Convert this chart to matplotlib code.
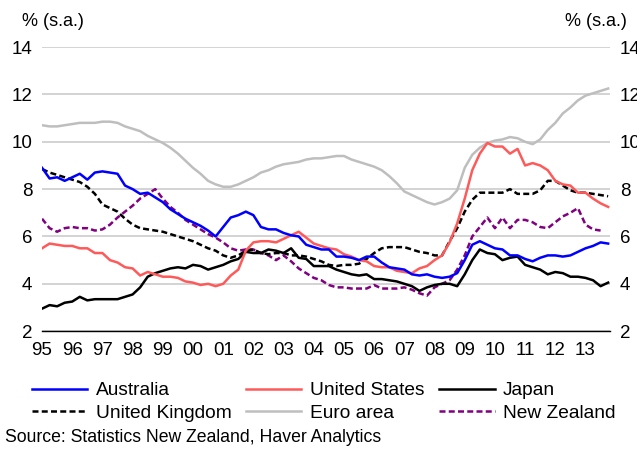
import numpy as np
import matplotlib
matplotlib.use("Agg")
import matplotlib.pyplot as plt

plt.rcParams['font.family'] = ['Liberation Sans', 'DejaVu Sans']

# quarterly time axis, 1995Q1 .. 2013Q4
quarters = np.arange(1995.0, 2013.76, 0.25)

australia = [8.9, 8.45, 8.5, 8.35, 8.5, 8.65, 8.4, 8.7, 8.75, 8.7, 8.65, 8.15,
             8.0, 7.8, 7.85, 7.65, 7.45, 7.15, 6.95, 6.75, 6.6, 6.45, 6.25, 6.0,
             6.4, 6.8, 6.9, 7.05, 6.9, 6.4, 6.3, 6.3, 6.15, 6.05, 6.0, 5.65,
             5.55, 5.45, 5.45, 5.15, 5.15, 5.1, 5.0, 5.15, 5.15, 4.9, 4.7, 4.65,
             4.6, 4.4, 4.35, 4.4, 4.3, 4.25, 4.3, 4.45, 5.0, 5.65, 5.8, 5.65,
             5.5, 5.45, 5.2, 5.2, 5.05, 4.95, 5.1, 5.2, 5.2, 5.15, 5.2, 5.35,
             5.5, 5.6, 5.75, 5.7]

united_states = [5.5, 5.7, 5.65, 5.6, 5.6, 5.5, 5.5, 5.3, 5.3, 5.0, 4.9, 4.7,
                 4.65, 4.35, 4.5, 4.4, 4.3, 4.3, 4.25, 4.1, 4.05, 3.95, 4.0, 3.9,
                 4.0, 4.35, 4.6, 5.4, 5.75, 5.8, 5.8, 5.75, 5.9, 6.05, 6.2, 5.95,
                 5.7, 5.6, 5.5, 5.45, 5.25, 5.15, 5.0, 4.95, 4.75, 4.7, 4.7, 4.55,
                 4.5, 4.45, 4.65, 4.75, 5.0, 5.2, 5.75, 6.55, 7.6, 8.8, 9.5, 9.95,
                 9.8, 9.8, 9.5, 9.7, 9.0, 9.1, 9.0, 8.8, 8.35, 8.2, 8.15, 7.85,
                 7.85, 7.6, 7.4, 7.25]

japan = [2.95, 3.1, 3.05, 3.2, 3.25, 3.45, 3.3, 3.35, 3.35, 3.35, 3.35, 3.45,
         3.55, 3.85, 4.3, 4.45, 4.55, 4.65, 4.7, 4.65, 4.8, 4.75, 4.6, 4.7,
         4.8, 4.95, 5.05, 5.35, 5.3, 5.3, 5.45, 5.4, 5.3, 5.5, 5.1, 5.05,
         4.75, 4.75, 4.75, 4.6, 4.5, 4.4, 4.35, 4.4, 4.2, 4.2, 4.15, 4.1,
         4.0, 3.9, 3.7, 3.85, 3.95, 4.0, 4.0, 3.9, 4.4, 5.0, 5.45, 5.3,
         5.25, 5.0, 5.1, 5.15, 4.8, 4.7, 4.6, 4.4, 4.5, 4.45, 4.3, 4.3,
         4.25, 4.15, 3.9, 4.05]

united_kingdom = [8.85, 8.7, 8.6, 8.5, 8.4, 8.3, 8.1, 7.8, 7.35, 7.2, 7.05, 6.75,
                  6.5, 6.35, 6.3, 6.25, 6.2, 6.1, 6.0, 5.9, 5.8, 5.65, 5.5, 5.4,
                  5.2, 5.1, 5.2, 5.4, 5.45, 5.3, 5.25, 5.3, 5.3, 5.2, 5.2, 5.15,
                  5.05, 4.95, 4.8, 4.75, 4.8, 4.8, 4.85, 5.05, 5.3, 5.5, 5.55, 5.55,
                  5.55, 5.45, 5.35, 5.3, 5.2, 5.2, 5.8, 6.35, 7.05, 7.55, 7.85, 7.85,
                  7.85, 7.85, 8.0, 7.8, 7.8, 7.8, 7.95, 8.35, 8.35, 8.15, 7.95, 7.85,
                  7.85, 7.8, 7.75, 7.7]

euro_area = [10.7, 10.65, 10.65, 10.7, 10.75, 10.8, 10.8, 10.8, 10.85, 10.85, 10.8, 10.65,
             10.55, 10.45, 10.25, 10.1, 9.95, 9.75, 9.5, 9.2, 8.9, 8.65, 8.35, 8.2,
             8.1, 8.1, 8.2, 8.35, 8.5, 8.7, 8.8, 8.95, 9.05, 9.1, 9.15, 9.25,
             9.3, 9.3, 9.35, 9.4, 9.4, 9.25, 9.15, 9.05, 8.95, 8.8, 8.55, 8.25,
             7.9, 7.75, 7.6, 7.45, 7.35, 7.45, 7.6, 7.95, 8.9, 9.45, 9.75, 9.95,
             10.05, 10.1, 10.2, 10.15, 10.0, 9.9, 10.1, 10.5, 10.8, 11.2, 11.45, 11.75,
             11.95, 12.05, 12.15, 12.25]

# NZ household labour force survey, last obs 2013Q3
new_zealand = [6.75, 6.35, 6.2, 6.35, 6.4, 6.35, 6.35, 6.25, 6.3, 6.5, 6.8, 7.05,
               7.3, 7.6, 7.8, 8.0, 7.6, 7.25, 7.0, 6.7, 6.5, 6.3, 6.1, 5.95,
               5.75, 5.5, 5.4, 5.45, 5.45, 5.3, 5.2, 5.0, 5.2, 4.95, 4.65, 4.45,
               4.25, 4.15, 3.95, 3.85, 3.85, 3.8, 3.8, 3.8, 3.95, 3.8, 3.8, 3.8,
               3.85, 3.75, 3.6, 3.5, 3.85, 4.0, 4.15, 4.6, 5.2, 6.0, 6.4, 6.8,
               6.35, 6.8, 6.35, 6.7, 6.7, 6.6, 6.4, 6.35, 6.6, 6.85, 7.0, 7.2,
               6.5, 6.3, 6.25]

year_ticks = list(range(1995, 2014))
year_labels = ['%02d' % (y % 100) for y in year_ticks]
y_ticks = [2, 4, 6, 8, 10, 12, 14]

fig = plt.figure(figsize=(6.37, 4.53), dpi=100)
ax = fig.add_axes([0.066, 0.269, 0.892, 0.627])

dash = (0, (2.4, 1.3))
lw = 1.8
ax.plot(quarters, euro_area, color='#BEBEBE', lw=lw, label='Euro area')
ax.plot(quarters[:len(new_zealand)], new_zealand, color='#800080', lw=lw, ls=dash, label='New Zealand')
ax.plot(quarters, united_kingdom, color='black', lw=lw, ls=dash, label='United Kingdom')
ax.plot(quarters, japan, color='black', lw=lw, label='Japan')
ax.plot(quarters, united_states, color='#FF5A5A', lw=lw, label='United States')
ax.plot(quarters, australia, color='#0000FF', lw=lw, label='Australia')

ax.set_xlim(1995.0, 2013.82)
ax.set_ylim(2, 14)
ax.set_xticks(year_ticks)
ax.set_xticklabels(year_labels)
ax.set_yticks(y_ticks)
ax.tick_params(axis='x', length=0, pad=8, labelsize=13.5)
ax.tick_params(axis='y', length=0, labelsize=13.5, labelleft=True, labelright=True, pad=7)
ax.grid(axis='y', color='#CCCCCC', lw=1.2)
ax.set_axisbelow(True)
for s in ['top', 'left', 'right']:
    ax.spines[s].set_visible(False)
ax.spines['bottom'].set_color('black')
ax.spines['bottom'].set_linewidth(1.0)

fig.text(22 / 637, 1 - 22 / 453, '% (s.a.)', fontsize=13, va='center', ha='left')
fig.text(627 / 637, 1 - 22 / 453, '% (s.a.)', fontsize=13, va='center', ha='right')

# legend: rows Australia/US/Japan, then UK/Euro/NZ
h = {l.get_label(): l for l in ax.get_lines()}
order = ['Australia', 'United Kingdom', 'United States', 'Euro area', 'Japan', 'New Zealand']
fig.legend([h[k] for k in order], order, ncol=3, loc='upper left',
           bbox_to_anchor=(31.5 / 637, 1 - 382 / 453), frameon=False, fontsize=13.8,
           handlelength=2.9, handletextpad=0.45, columnspacing=0.75,
           borderpad=0, borderaxespad=0, labelspacing=0.28)

fig.text(5 / 637, 1 - 438 / 453, 'Source: Statistics New Zealand, Haver Analytics',
         fontsize=12.7, va='center', ha='left')

fig.savefig('out.png', dpi=100)
